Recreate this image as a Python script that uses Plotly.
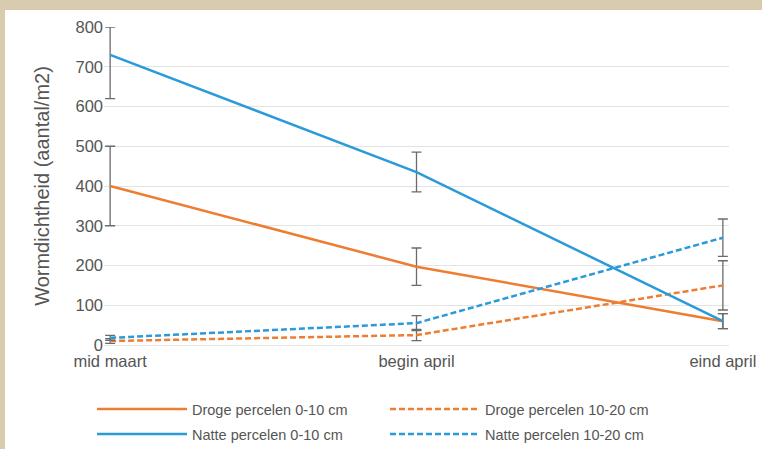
import plotly.graph_objects as go

categories = ["mid maart", "begin april", "eind april"]
x_pos = [0, 1, 2]

droge_0_10 = [400, 197, 60]
droge_0_10_err = [100, 47, 19]
droge_10_20 = [10, 25, 150]
droge_10_20_err = [6, 14, 62]
natte_0_10 = [730, 435, 60]
natte_0_10_err_plus = [70, 50, 19]
natte_0_10_err_minus = [110, 50, 19]
natte_10_20 = [18, 55, 270]
natte_10_20_err = [6, 19, 47]

y_ticks = [0, 100, 200, 300, 400, 500, 600, 700, 800]

ORANGE = "#ED7D31"
BLUE = "#2A9BD8"
ERR = "#6b6b6b"
TXT = "#555555"

def err(arr, minus=None):
    d = dict(type="data", array=arr, color=ERR, thickness=1.3, width=5, visible=True)
    if minus is not None:
        d["symmetric"] = False
        d["arrayminus"] = minus
    return d

fig = go.Figure()
fig.add_trace(go.Scatter(x=x_pos, y=droge_0_10, mode="lines", name="Droge percelen 0-10 cm",
                         line=dict(color=ORANGE, width=2.5), error_y=err(droge_0_10_err),
                         legend="legend"))
fig.add_trace(go.Scatter(x=x_pos, y=droge_10_20, mode="lines", name="Droge percelen 10-20 cm",
                         line=dict(color=ORANGE, width=2.5, dash="6px,3px"), error_y=err(droge_10_20_err),
                         legend="legend"))
fig.add_trace(go.Scatter(x=x_pos, y=natte_0_10, mode="lines", name="Natte percelen 0-10 cm",
                         line=dict(color=BLUE, width=2.5), error_y=err(natte_0_10_err_plus, natte_0_10_err_minus),
                         legend="legend2"))
fig.add_trace(go.Scatter(x=x_pos, y=natte_10_20, mode="lines", name="Natte percelen 10-20 cm",
                         line=dict(color=BLUE, width=2.5, dash="6px,3px"), error_y=err(natte_10_20_err),
                         legend="legend2"))

L, W = 104, 625
T, H = 27, 318
def px(xp):
    return (xp - L) / W
def py(yp):
    return (T + H - yp) / H

fig.add_shape(type="rect", xref="paper", yref="paper", x0=px(5), x1=px(770), y0=py(10), y1=py(460),
              fillcolor="white", line=dict(width=0), layer="below")

leg_common = dict(orientation="h", xanchor="left", yanchor="middle",
                  entrywidth=188, entrywidthmode="pixels", itemwidth=90,
                  font=dict(size=14.5, color=TXT), bgcolor="rgba(0,0,0,0)")

fig.update_layout(
    width=762, height=449,
    margin=dict(l=L, r=762 - L - W, t=T, b=449 - T - H, autoexpand=False),
    paper_bgcolor="#D9CBAD",
    plot_bgcolor="white",
    font=dict(family="Liberation Sans, Arial, sans-serif", size=13, color=TXT),
    showlegend=True,
    legend=dict(x=px(92), y=py(409), **leg_common),
    legend2=dict(x=px(92), y=py(434), **leg_common),
    xaxis=dict(range=[-0.02, 2.02], tickmode="array", tickvals=x_pos, ticktext=categories,
               showgrid=False, zeroline=False, showline=False, ticks="",
               ticklabelstandoff=4,
               tickfont=dict(size=16.5, color=TXT)),
    yaxis=dict(range=[0, 800], tickmode="array", tickvals=y_ticks, showgrid=True,
               gridcolor="#E3E3E3", gridwidth=1, zeroline=True, zerolinecolor="#E3E3E3",
               zerolinewidth=1, showline=False, ticks="",
               tickfont=dict(size=16.5, color=TXT),
               title=dict(text="Wormdichtheid (aantal/m2)", standoff=20,
                          font=dict(size=20, color=TXT))),
)

fig.write_html("out.html", config={"displayModeBar": False},
               post_script="document.body.style.margin='0';document.body.style.overflow='hidden';")
